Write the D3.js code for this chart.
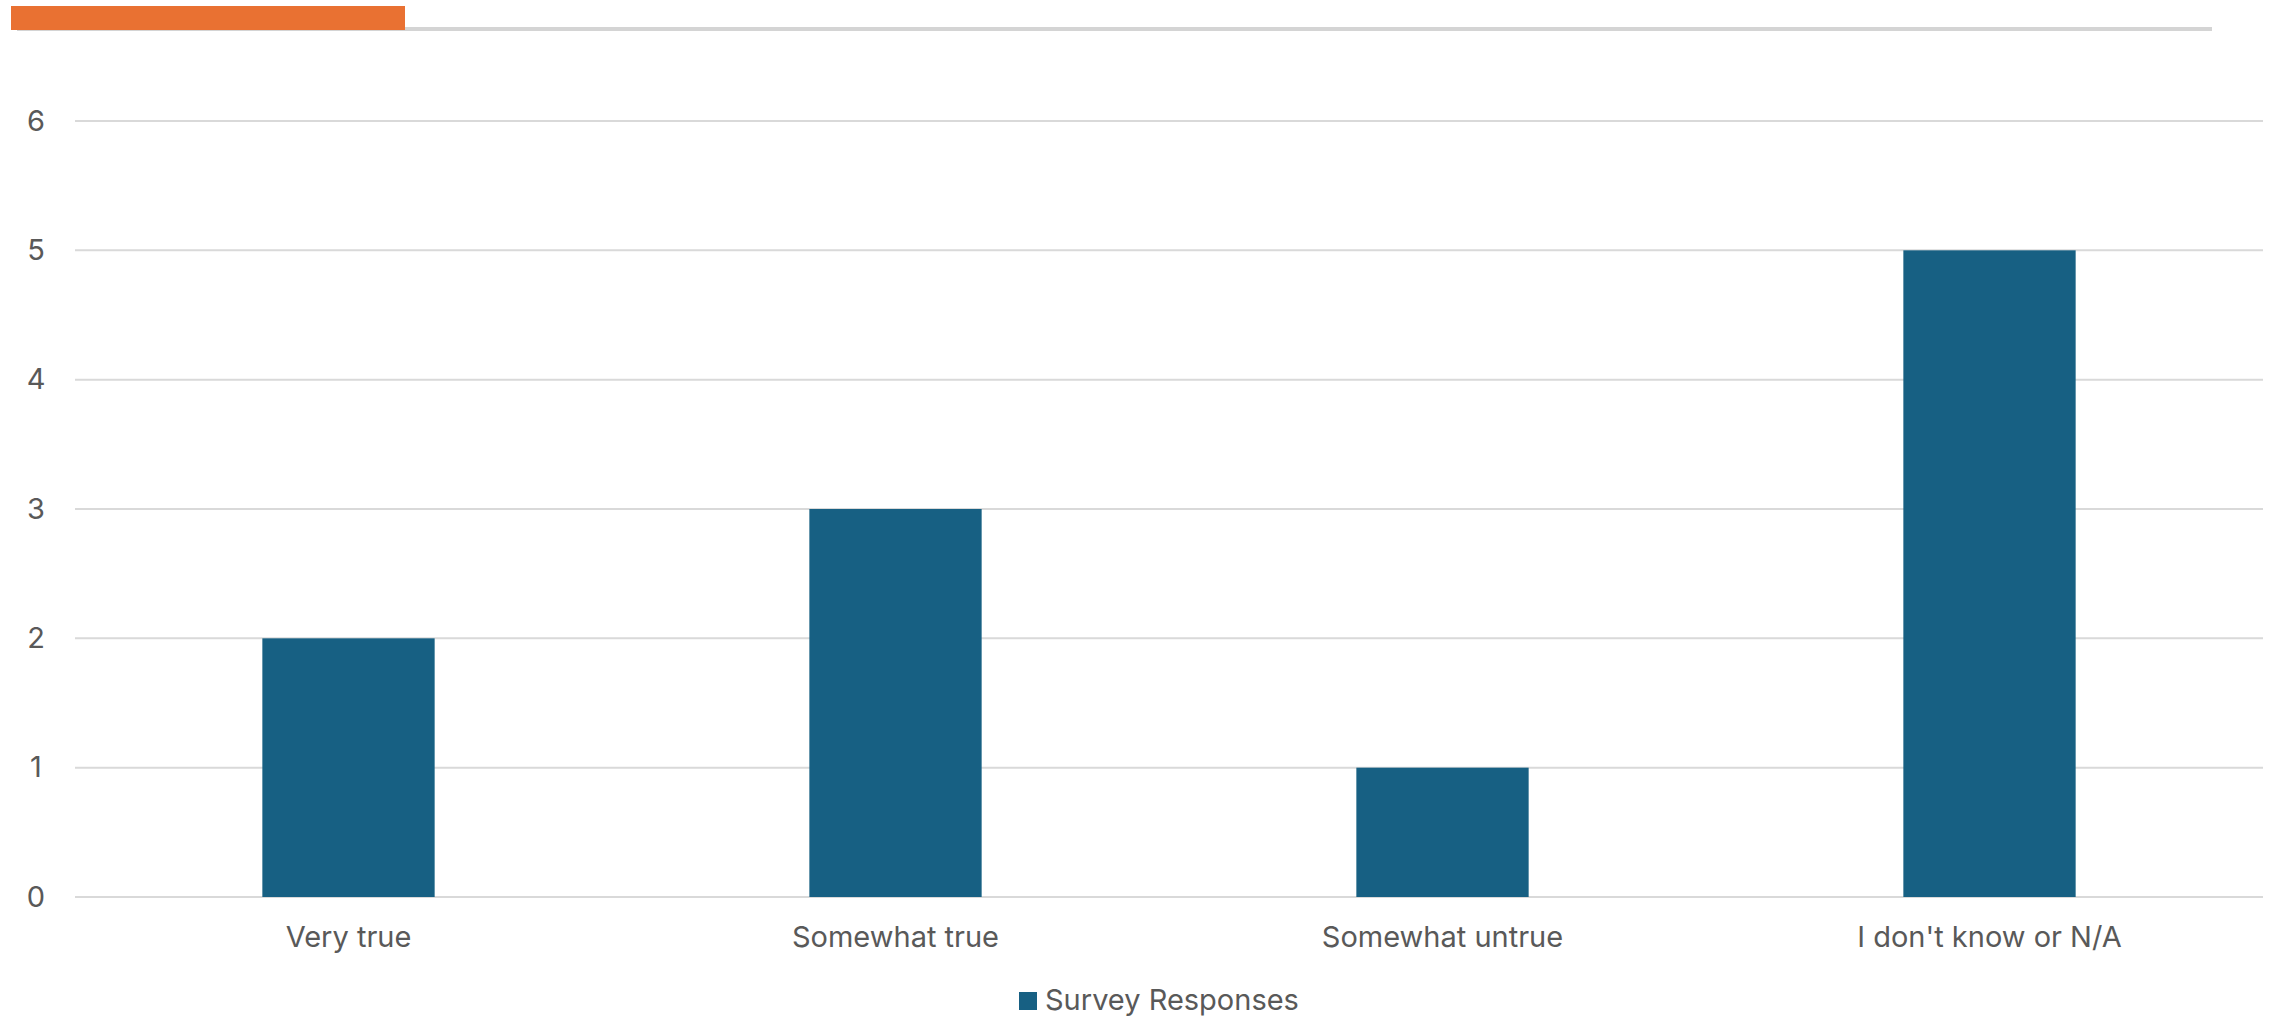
<!DOCTYPE html>
<html><head><meta charset="utf-8">
<script src="https://cdn.jsdelivr.net/npm/d3@7"></script>
<style>body{margin:0;background:#fff;}svg{display:block;font-family:Inter,"Noto Sans",sans-serif;}</style>
</head><body>
<script>
const categories = ["Very true", "Somewhat true", "Somewhat untrue", "I don't know or N/A"];
const values = [2, 3, 1, 5];
const yTicks = [0, 1, 2, 3, 4, 5, 6];
const seriesName = "Survey Responses";

const W = 2272, H = 1016;
const svg = d3.select("body").append("svg").attr("width", W).attr("height", H);

// header decoration
svg.append("rect").attr("x", 17).attr("y", 27).attr("width", 2195).attr("height", 4).attr("fill", "#d4d4d4");
svg.append("rect").attr("x", 11).attr("y", 6).attr("width", 394).attr("height", 24).attr("fill", "#e97132");

const x = d3.scaleBand().domain(categories).range([75, 2263]).padding(0);
const y = d3.scaleLinear().domain([0, 6]).range([897, 121]);

const grid = svg.append("g");
grid.selectAll("line").data(yTicks).join("line")
  .attr("x1", 75).attr("x2", 2263)
  .attr("y1", d => y(d)).attr("y2", d => y(d))
  .attr("stroke", "#d9d9d9").attr("stroke-width", 2);

const yAxis = svg.append("g").attr("transform", "translate(48,0)")
  .call(d3.axisLeft(y).tickValues(yTicks).tickSize(0).tickPadding(0).tickFormat(d3.format("d")));
yAxis.select(".domain").remove();
yAxis.selectAll("text").attr("fill", "#595959").attr("font-size", 29).attr("text-anchor", "middle").attr("x", -12)
  .style("font-family", "Inter, 'Noto Sans', sans-serif");

const bw = x.bandwidth() * 0.315;
svg.append("g").selectAll("rect").data(values).join("rect")
  .attr("x", (d, i) => x(categories[i]) + x.bandwidth() / 2 - bw / 2)
  .attr("width", bw)
  .attr("y", d => y(d))
  .attr("height", d => y(0) - y(d))
  .attr("fill", "#176083");

const xAxis = svg.append("g").attr("transform", "translate(0,897)")
  .call(d3.axisBottom(x).tickSize(0).tickPadding(0));
xAxis.select(".domain").remove();
xAxis.selectAll("text").attr("fill", "#595959").attr("font-size", 29).attr("dy", null).attr("y", 50)
  .style("font-family", "Inter, 'Noto Sans', sans-serif");

// legend
const lg = svg.append("g");
lg.append("rect").attr("x", 1019).attr("y", 992).attr("width", 18).attr("height", 18).attr("fill", "#176083");
lg.append("text").attr("x", 1045).attr("y", 1010).text(seriesName)
  .attr("fill", "#595959").attr("font-size", 29);
</script>
</body></html>
